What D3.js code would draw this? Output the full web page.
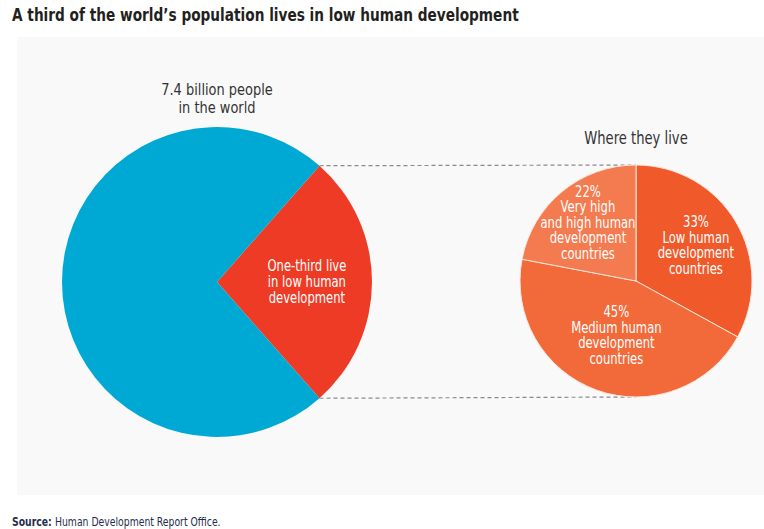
<!DOCTYPE html>
<meta charset="utf-8">
<head>
<script src="https://d3js.org/d3.v7.min.js"></script>
<style>
  body { margin: 0; background: #fff; }
  text { font-family: "Liberation Sans Narrow", "DejaVu Sans Condensed", sans-serif; }
</style>
</head>
<body>
<div id="chart"></div>
<script>
// world population split (share of 7.4 billion)
var worldGroups = ["Other", "Low human development"];
var worldShare = [73, 27];
var worldColors = ["#00a9d4", "#ee3b25"];

// where they live (right pie)
var liveGroups = ["Low human development countries", "Medium human development countries", "Very high and high human development countries"];
var liveShare = [33, 45, 22];
var liveColors = ["#f05a2b", "#f26a3a", "#f37b4f"];
var liveLabels = [
  ["33%", "Low human", "development", "countries"],
  ["45%", "Medium human", "development", "countries"],
  ["22%", "Very high", "and high human", "development", "countries"]
];

var width = 764, height = 529;
var squeeze = 0.86; // fake a condensed face

var svg = d3.select("#chart").append("svg")
    .attr("width", width)
    .attr("height", height);

// text block helper: lines centred/left at (x,y), squeezed horizontally
function textBlock(parent, x, y, lines, size, lh, anchor, fill, weight, sq) {
  var t = parent.append("g")
      .attr("transform", "translate(" + x + "," + y + ") scale(" + (sq || squeeze) + ",1)")
    .append("text")
      .attr("text-anchor", anchor)
      .attr("fill", fill)
      .style("font-size", size + "px")
      .style("font-weight", weight || "normal");
  lines.forEach(function(s, j) {
    t.append("tspan").attr("x", 0).attr("y", j * lh).text(s);
  });
  return t;
}

// panel
svg.append("rect")
    .attr("x", 17).attr("y", 37)
    .attr("width", 747).attr("height", 458)
    .attr("fill", "#f9f9f9");

textBlock(svg, 12, 21, ["A third of the world\u2019s population lives in low human development"],
    18, 0, "start", "#231f20", "bold", 0.845);

var src = svg.append("g")
    .attr("transform", "translate(12,526) scale(" + squeeze + ",1)")
  .append("text")
    .style("font-size", "12px")
    .attr("fill", "#1f2d4d");
src.append("tspan").style("font-weight", "bold").text("Source: ");
src.append("tspan").text("Human Development Report Office.");

// big pie
var R1 = 155, c1 = [217, 282];
var redFrac = worldShare[1] / d3.sum(worldShare);
var pie1 = d3.pie().sort(null)
    .startAngle(Math.PI / 2 - redFrac * Math.PI)
    .endAngle(Math.PI / 2 - redFrac * Math.PI + 2 * Math.PI);
// red slice first so it sits centred on the right
var arcs1 = pie1([worldShare[1], worldShare[0]]);
var arc1 = d3.arc().innerRadius(0).outerRadius(R1);
var g1 = svg.append("g").attr("transform", "translate(" + c1 + ")");
g1.selectAll("path").data(arcs1).enter().append("path")
    .attr("d", arc1)
    .attr("fill", function(d, i) { return i === 0 ? worldColors[1] : worldColors[0]; });

var redArc = arcs1[0];
var lbl1 = d3.arc().innerRadius(R1 * 0.58).outerRadius(R1 * 0.58).centroid(redArc);
textBlock(g1, lbl1[0], lbl1[1] - 11, ["One-third live", "in low human", "development"], 15, 16, "middle", "#fff");

textBlock(svg, c1[0], 95, ["7.4 billion people"], 16, 0, "middle", "#333", null, 0.9);
textBlock(svg, c1[0], 113, ["in the world"], 16, 0, "middle", "#333", null, 0.9);

// right pie
var R2 = 116, c2 = [636, 281];
var pie2 = d3.pie().sort(null);
var arcs2 = pie2(liveShare);
var arc2 = d3.arc().innerRadius(0).outerRadius(R2);

// dashed connectors from red slice edges to top and bottom of right pie
var topPt = [c1[0] + R1 * Math.sin(redArc.startAngle), c1[1] - R1 * Math.cos(redArc.startAngle)];
var botPt = [c1[0] + R1 * Math.sin(redArc.endAngle), c1[1] - R1 * Math.cos(redArc.endAngle)];
[[topPt, c2[1] - R2], [botPt, c2[1] + R2]].forEach(function(p) {
  svg.append("line")
      .attr("x1", p[0][0]).attr("y1", p[0][1])
      .attr("x2", c2[0]).attr("y2", p[1])
      .attr("stroke", "#8a8a8a").attr("stroke-width", 1.2)
      .attr("stroke-dasharray", "4,3");
});

var g2 = svg.append("g").attr("transform", "translate(" + c2 + ")");
g2.selectAll("path").data(arcs2).enter().append("path")
    .attr("d", arc2)
    .attr("fill", function(d, i) { return liveColors[i]; })
    .attr("stroke", "#fde4d8")
    .attr("stroke-width", 1);

var labelR = [0.6, 0.5, 0.65];
arcs2.forEach(function(d, i) {
  var p = d3.arc().innerRadius(R2 * labelR[i]).outerRadius(R2 * labelR[i]).centroid(d);
  var lines = liveLabels[i];
  textBlock(g2, p[0], p[1] + 5 - (lines.length - 1) / 2 * 15.5, lines, 15, 15.5, "middle", "#fff");
});

textBlock(svg, c2[0], 144, ["Where they live"], 17, 0, "middle", "#333");
</script>
</body>
</html>
